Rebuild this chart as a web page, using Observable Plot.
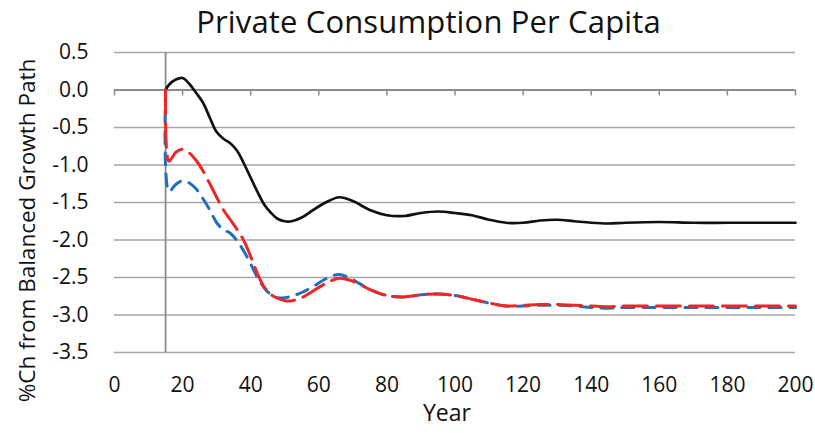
<!DOCTYPE html>
<html>
<head>
<meta charset="utf-8">
<script src="https://cdn.jsdelivr.net/npm/d3@7"></script>
<script src="https://cdn.jsdelivr.net/npm/@observablehq/plot@0.6"></script>
<style>
  html, body { margin: 0; padding: 0; background: #fff; }
  #wrap { position: relative; width: 815px; height: 433px; font-family: "Open Sans", sans-serif; }
  #title { position: absolute; z-index: 2; left: 21px; top: 0; width: 815px; text-align: center; font-size: 31px; letter-spacing: 0.15px; line-height: 43px; color: #111; white-space: nowrap; }
  #wrap svg { position: absolute; left: 0; top: 0; z-index: 1; }
</style>
</head>
<body>
<div id="wrap"><div id="title">Private Consumption Per Capita</div></div>
<script>
const years = [15,16,18,20,22,24,26,28,30,32,34,36,38,40,42,44,46,48,50,52,55,58,62,66,70,75,80,85,90,95,100,105,110,115,120,125,130,135,140,145,150,160,170,180,190,200];
const blackSeries = [0,0.07,0.14,0.16,0.08,-0.04,-0.17,-0.37,-0.56,-0.65,-0.71,-0.81,-0.98,-1.17,-1.36,-1.53,-1.64,-1.72,-1.75,-1.75,-1.70,-1.61,-1.50,-1.43,-1.48,-1.60,-1.67,-1.68,-1.64,-1.62,-1.64,-1.67,-1.73,-1.77,-1.77,-1.74,-1.73,-1.75,-1.77,-1.78,-1.77,-1.76,-1.77,-1.77,-1.77,-1.77];
const redSeries = [0,-0.95,-0.83,-0.79,-0.84,-0.94,-1.08,-1.25,-1.43,-1.60,-1.73,-1.86,-2.01,-2.22,-2.45,-2.63,-2.73,-2.78,-2.81,-2.81,-2.77,-2.69,-2.58,-2.51,-2.55,-2.66,-2.74,-2.76,-2.73,-2.72,-2.74,-2.79,-2.84,-2.88,-2.87,-2.86,-2.86,-2.87,-2.88,-2.89,-2.88,-2.88,-2.88,-2.88,-2.88,-2.88];
const blueSeries = [0,-1.35,-1.26,-1.21,-1.24,-1.32,-1.45,-1.60,-1.77,-1.86,-1.91,-2.01,-2.15,-2.32,-2.50,-2.64,-2.73,-2.77,-2.77,-2.75,-2.70,-2.63,-2.52,-2.46,-2.53,-2.66,-2.74,-2.76,-2.73,-2.72,-2.74,-2.79,-2.84,-2.88,-2.88,-2.87,-2.87,-2.88,-2.90,-2.91,-2.90,-2.90,-2.90,-2.90,-2.90,-2.90];
const xTicks = [0,20,40,60,80,100,120,140,160,180,200];
const yTicks = [0.5,0,-0.5,-1,-1.5,-2,-2.5,-3,-3.5];
const xAxisCross = 15;

const black = years.map((x,i)=>({x, y: blackSeries[i]}));
const red = years.map((x,i)=>({x, y: redSeries[i]}));
const blue = years.map((x,i)=>({x, y: blueSeries[i]}));

const fmtY = d => d3.format(".1f")(d).replace("−","-");
const gridColor = "#a6a6a6";
const axisColor = "#8c8c8c";
const chart = Plot.plot({
  width: 815,
  height: 433,
  marginLeft: 114,
  marginRight: 20,
  marginTop: 52,
  marginBottom: 81,
  style: {fontFamily: "Open Sans, sans-serif", fontSize: "21px", color: "#111", background: "transparent", overflow: "visible"},
  x: {type: "linear", domain: [0,200]},
  y: {type: "linear", domain: [-3.5,0.5]},
  marks: [
    Plot.ruleY(yTicks, {y: d => d, x1: () => 0, x2: () => 200, stroke: gridColor, strokeWidth: 1.6}),
    Plot.ruleX([xAxisCross], {x: d => d, y1: () => -3.5, y2: () => 0.5, stroke: axisColor, strokeWidth: 1.8}),
    Plot.ruleY([0], {y: d => d, x1: () => 0, x2: () => 200, stroke: axisColor, strokeWidth: 1.8}),
    Plot.ruleX(xTicks, {x: d => d, y1: () => 0, y2: () => -0.08, stroke: axisColor, strokeWidth: 1.5}),
    Plot.axisX({ticks: xTicks, tickSize: 0, tickPadding: 25, fontSize: 21, tickFormat: d => d, label: null}),
    Plot.axisY({ticks: yTicks, tickSize: 0, tickPadding: 26, fontSize: 21, tickFormat: fmtY, label: null}),
    Plot.text(["%Ch from Balanced Growth Path"], {frameAnchor: "left", textAnchor: "middle", dx: -87, dy: 28, rotate: -90, fontSize: 22.5, fill: "#111"}),
    Plot.text(["Year"], {frameAnchor: "bottom", dx: -8, dy: 68, fontSize: 23, fill: "#111"}),
    Plot.line(black, {x: "x", y: "y", stroke: "#111", strokeWidth: 2.7, curve: "catmull-rom"}),
    Plot.line(blue, {x: "x", y: "y", stroke: "#1f6fc0", strokeWidth: 3, strokeDasharray: "12,9", curve: "catmull-rom"}),
    Plot.line(red, {x: "x", y: "y", stroke: "#f02525", strokeWidth: 3, strokeDasharray: "24,9", curve: "catmull-rom"})
  ]
});
document.getElementById("wrap").appendChild(chart);
</script>
</body>
</html>
